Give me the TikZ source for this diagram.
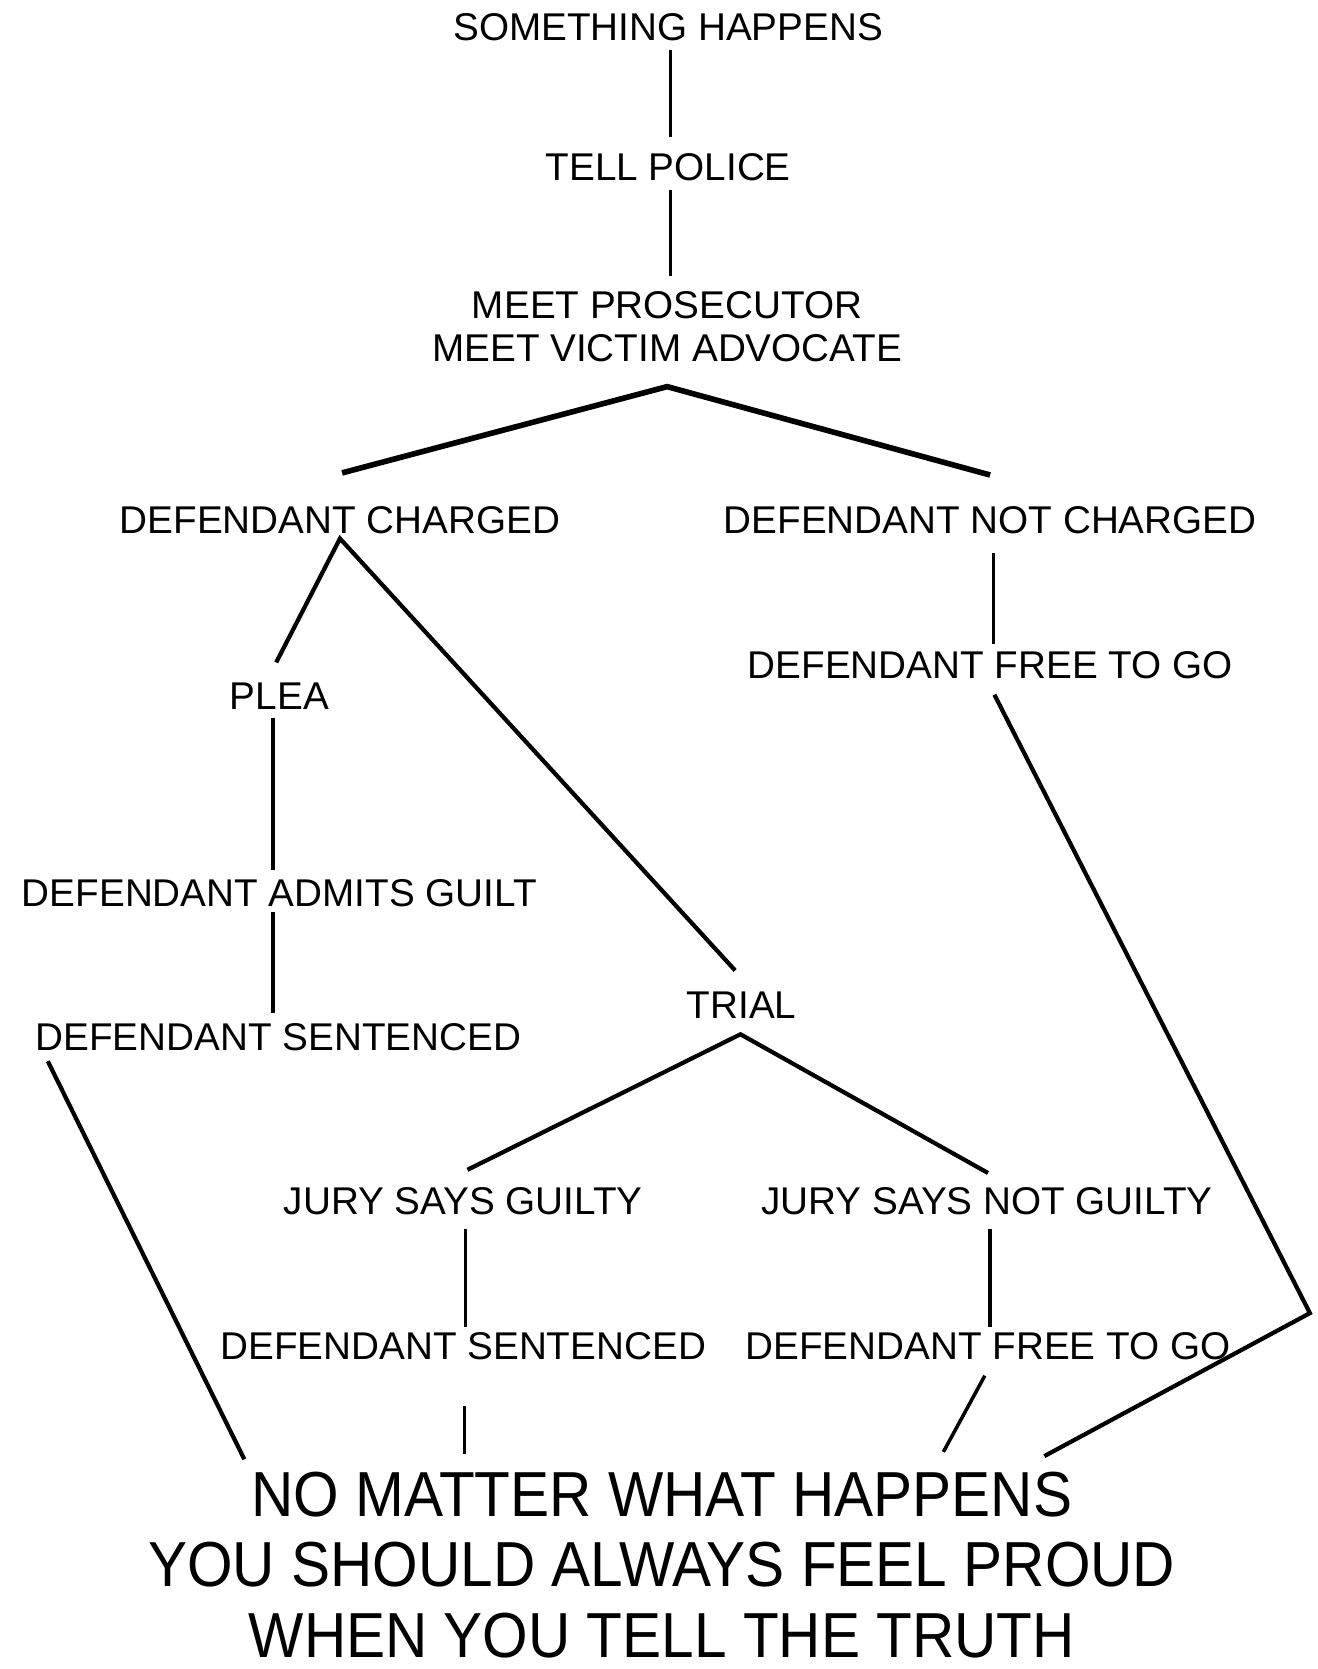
\documentclass[tikz,border=0pt]{standalone}
\usepackage{fontspec}
\setmainfont{Liberation Sans}
\newfontfamily\bigfont[FakeStretch=0.92]{Liberation Sans}
\usetikzlibrary{positioning}
\usetikzlibrary{calc}

\begin{document}
\begin{tikzpicture}[x=0.01062cm, y=0.01062cm,
    every node/.style={inner sep=0pt, outer sep=0pt, font=\fontsize{11}{12.4}\selectfont},
    stem/.style={line width=1pt},
    branch/.style={line width=1.2pt},
    fork/.style={line width=1.6pt}]
    \useasboundingbox (0,0) rectangle (1240,-1571);

    \node (happens) at (629,-26) {SOMETHING HAPPENS};
    \node (tell) at (629,-157) {TELL POLICE};
    \node[align=center] (meet) at (628,-307.5) {MEET PROSECUTOR\\MEET VICTIM ADVOCATE};

    \node (charged) at (320,-490) {DEFENDANT CHARGED};
    \node (notcharged) at (932,-490) {DEFENDANT NOT CHARGED};
    \node (free1) at (932,-626) {DEFENDANT FREE TO GO};

    \node (plea) at (263,-655) {PLEA};
    \node (admits) at (263,-841) {DEFENDANT ADMITS GUILT};
    \node (sentenced1) at (262,-976) {DEFENDANT SENTENCED};

    \node (trial) at (698,-946) {TRIAL};
    \node (guilty) at (436,-1131) {JURY SAYS GUILTY};
    \node (notguilty) at (929,-1131) {JURY SAYS NOT GUILTY};
    \node (sentenced2) at (436,-1267) {DEFENDANT SENTENCED};
    \node (free2) at (930,-1267) {DEFENDANT FREE TO GO};

    \node[align=center, font=\bigfont\fontsize{18.1}{20}\selectfont] (proud) at (623,-1473)
        {NO MATTER WHAT HAPPENS\\YOU SHOULD ALWAYS FEEL PROUD\\WHEN YOU TELL THE TRUTH};

    \coordinate (bend) at (1233,-1236);

    % top of the chart
    \draw[stem] ($(happens.south)+(2,-8)$) -- ($(tell.north)+(2,15)$);
    \draw[stem] ($(tell.south)+(2,-9)$) -- ($(meet.north)+(3,14)$);
    \draw[fork] ($(charged.north)+(2,32)$) -- ($(meet.south)+(0,-23)$) -- ($(notcharged.north)+(0,30)$);

    % charged side
    \draw[branch] ($(plea.north)+(-3,19)$) -- ($(charged.south)+(0,-4)$) -- ($(trial.north)+(-6,20)$);
    \draw[stem] ($(plea.south)+(-6,-8)$) -- ($(admits.north)+(-6,9)$);
    \draw[stem] ($(admits.south)+(-6,-5)$) -- ($(sentenced1.north)+(-5,10)$);
    \draw[branch] ($(sentenced1.south)+(-217,-10)$) -- ($(proud.north)+(-393,12)$);

    % not charged side
    \draw[stem] ($(notcharged.south)+(3,-18)$) -- ($(free1.north)+(3,7)$);
    \draw[branch] ($(free1.south)+(4,-15)$) -- (bend) -- ($(proud.north)+(360,15)$);

    % trial
    \draw[branch] ($(guilty.north)+(4,17)$) -- ($(trial.south)+(-1,-15)$) -- ($(notguilty.north)+(1,14)$);
    \draw[stem] ($(guilty.south)+(2,-13)$) -- ($(sentenced2.north)+(2,5)$);
    \draw[stem] ($(notguilty.south)+(3,-13)$) -- ($(free2.north)+(2,5)$);
    \draw[stem] ($(sentenced2.south)+(1,-44)$) -- ($(proud.north)+(-186,17)$);
    \draw[stem] ($(free2.south)+(-3,-15)$) -- ($(proud.north)+(265,19)$);
\end{tikzpicture}
\end{document}
